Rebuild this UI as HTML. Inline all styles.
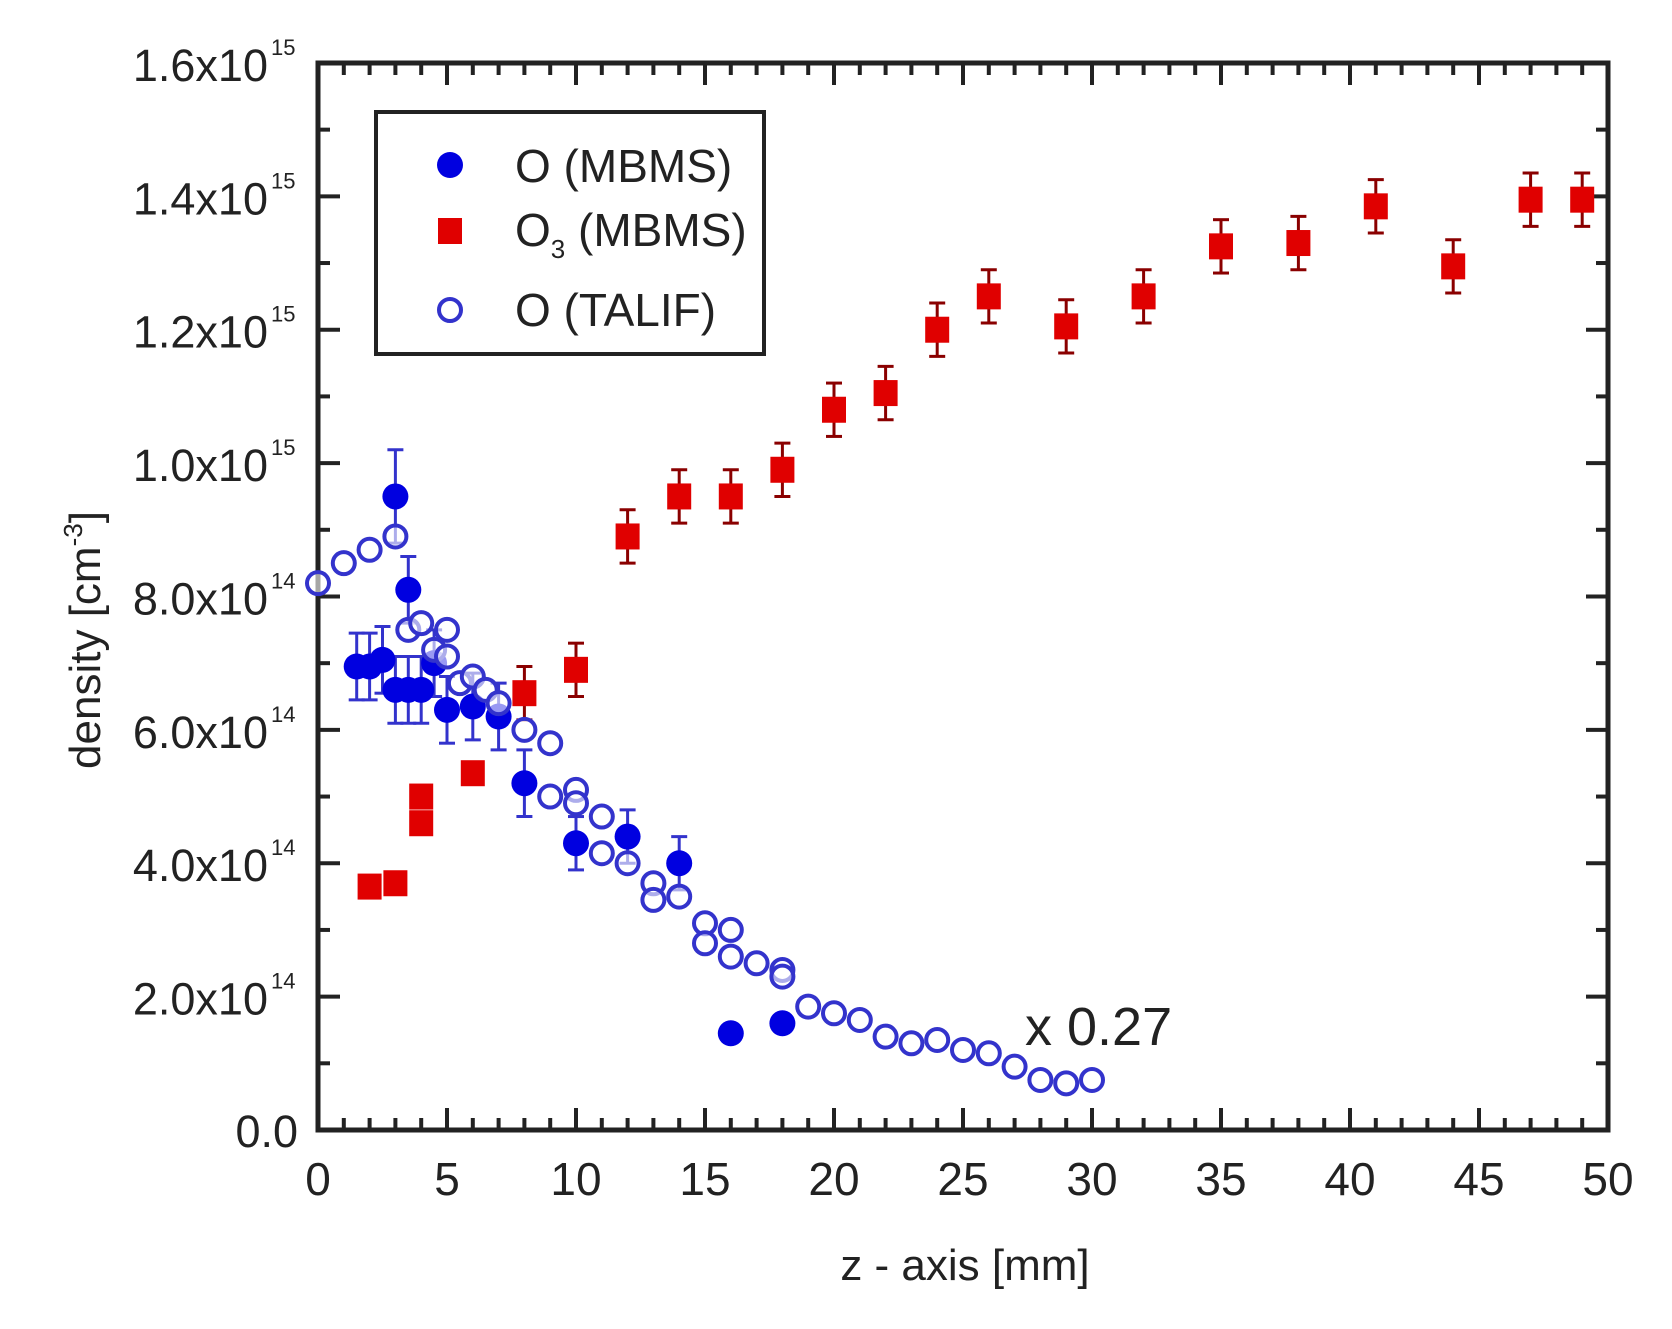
<!DOCTYPE html>
<html><head><meta charset="utf-8"><style>
html,body{margin:0;padding:0;background:#fff}
svg{display:block}
text{font-family:"Liberation Sans",Arial,sans-serif;fill:#222}
</style></head><body>
<svg id="s" width="1672" height="1329" viewBox="0 0 1672 1329" xmlns="http://www.w3.org/2000/svg">
<rect width="1672" height="1329" fill="#fff"/>
<g id="g"></g>
<text x="1025" y="1045" font-size="54">x 0.27</text>
<text x="965" y="1280" font-size="44" text-anchor="middle">z - axis [mm]</text>
<text transform="translate(100,640) rotate(-90)" font-size="44" text-anchor="middle">density [cm<tspan font-size="26" dy="-18">-3</tspan><tspan dy="18">]</tspan></text>
<rect x="376" y="112" width="388" height="242" fill="#fff" stroke="#222" stroke-width="4"/>
<circle cx="450" cy="165" r="13" fill="#0000e0"/>
<rect x="438" y="218" width="24" height="26" fill="#e00000"/>
<circle cx="450" cy="310" r="11" fill="none" stroke="#3333cc" stroke-width="4"/>
<text x="515" y="182" font-size="46">O  (MBMS)</text>
<text x="515" y="246" font-size="46">O<tspan font-size="26" dy="12">3</tspan><tspan dy="-12"> (MBMS)</tspan></text>
<text x="515" y="326" font-size="46">O  (TALIF)</text>
</svg>
<script>
var L=318,R=1608,T=63,B=1130;
function X(x){return L+25.8*x}
function Y(y){return B-66.69*y}
var h='';
// ticks
for(var i=0;i<=50;i++){var x=X(i),len=i%5==0?22:12;
h+='<line x1="'+x+'" y1="'+B+'" x2="'+x+'" y2="'+(B-len)+'" stroke="#222" stroke-width="4"/>';
h+='<line x1="'+x+'" y1="'+T+'" x2="'+x+'" y2="'+(T+len)+'" stroke="#222" stroke-width="4"/>';
if(i%5==0)h+='<text x="'+x+'" y="1195" font-size="46" text-anchor="middle">'+i+'</text>';}
for(var j=0;j<=16;j++){var y=Y(j),len=j%2==0?22:12;
h+='<line x1="'+L+'" y1="'+y+'" x2="'+(L+len)+'" y2="'+y+'" stroke="#222" stroke-width="4"/>';
h+='<line x1="'+R+'" y1="'+y+'" x2="'+(R-len)+'" y2="'+y+'" stroke="#222" stroke-width="4"/>';
if(j%2==0){var v,e;if(j==0){h+='<text x="298" y="'+(y+17)+'" font-size="45" text-anchor="end">0.0</text>';}
else{if(j<10){v=(j/1).toFixed(1);e='14';}else{v=(j/10).toFixed(1);e='15';}
h+='<text x="268" y="'+(y+18)+'" font-size="45" text-anchor="end">'+v+'x10</text>';
h+='<text x="271" y="'+(y-8)+'" font-size="22">'+e+'</text>';}}}
h+='<rect x="'+L+'" y="'+T+'" width="'+(R-L)+'" height="'+(B-T)+'" fill="none" stroke="#222" stroke-width="5"/>';
function eb(x,y,e,c){var px=X(x),a=Y(y-e),b=Y(y+e);
return '<line x1="'+px+'" y1="'+a+'" x2="'+px+'" y2="'+b+'" stroke="'+c+'" stroke-width="3"/>'+
'<line x1="'+(px-8)+'" y1="'+a+'" x2="'+(px+8)+'" y2="'+a+'" stroke="'+c+'" stroke-width="3"/>'+
'<line x1="'+(px-8)+'" y1="'+b+'" x2="'+(px+8)+'" y2="'+b+'" stroke="'+c+'" stroke-width="3"/>';}
var o3=[[2,3.65],[3,3.7],[4,4.6],[4,5.0],[6,5.35],[8,6.55],[10,6.9],[12,8.9],[14,9.5],[16,9.5],[18,9.9],[20,10.8],[22,11.05],[24,12.0],[26,12.5],[29,12.05],[32,12.5],[35,13.25],[38,13.3],[41,13.85],[44,12.95],[47,13.95],[49,13.95]];
o3.forEach(function(p){if(p[0]>=8)h+=eb(p[0],p[1],0.4,'#8a0000');});
o3.forEach(function(p){h+='<rect x="'+(X(p[0])-12)+'" y="'+(Y(p[1])-13)+'" width="24" height="26" fill="#e00000"/>';});
var ta=[[0,8.2],[1,8.5],[2,8.7],[3,8.9],[3.5,7.5],[4,7.6],[4.5,7.2],[5,7.5],[5,7.1],[5.5,6.7],[6,6.8],[6.5,6.6],[7,6.4],[8,6.0],[9,5.8],[9,5.0],[10,5.1],[10,4.9],[11,4.7],[11,4.15],[12,4.0],[13,3.7],[13,3.45],[14,3.5],[15,3.1],[15,2.8],[16,3.0],[16,2.6],[17,2.5],[18,2.4],[18,2.3],[19,1.85],[20,1.75],[21,1.65],[22,1.4],[23,1.3],[24,1.35],[25,1.2],[26,1.15],[27,0.95],[28,0.75],[29,0.7],[30,0.75]];
var om=[[1.5,6.95,0.5],[2,6.95,0.5],[2.5,7.05,0.5],[3,6.6,0.5],[3,9.5,0.7],[3.5,8.1,0.5],[3.5,6.6,0.5],[4,6.6,0.5],[4.5,7.0,0.5],[5,6.3,0.5],[6,6.35,0.5],[7,6.2,0.5],[8,5.2,0.5],[10,4.3,0.4],[12,4.4,0.4],[14,4.0,0.4],[16,1.45,0.1],[18,1.6,0.1]];
om.forEach(function(p){h+=eb(p[0],p[1],p[2],'#3333cc');});
om.forEach(function(p){h+='<circle cx="'+X(p[0])+'" cy="'+Y(p[1])+'" r="13" fill="#0000e0"/>';});
ta.forEach(function(p){h+='<circle cx="'+X(p[0])+'" cy="'+Y(p[1])+'" r="11" fill="#fff" fill-opacity="0.6" stroke="#3333cc" stroke-width="4"/>';});
document.getElementById('g').innerHTML=h;
</script>
</body></html>
